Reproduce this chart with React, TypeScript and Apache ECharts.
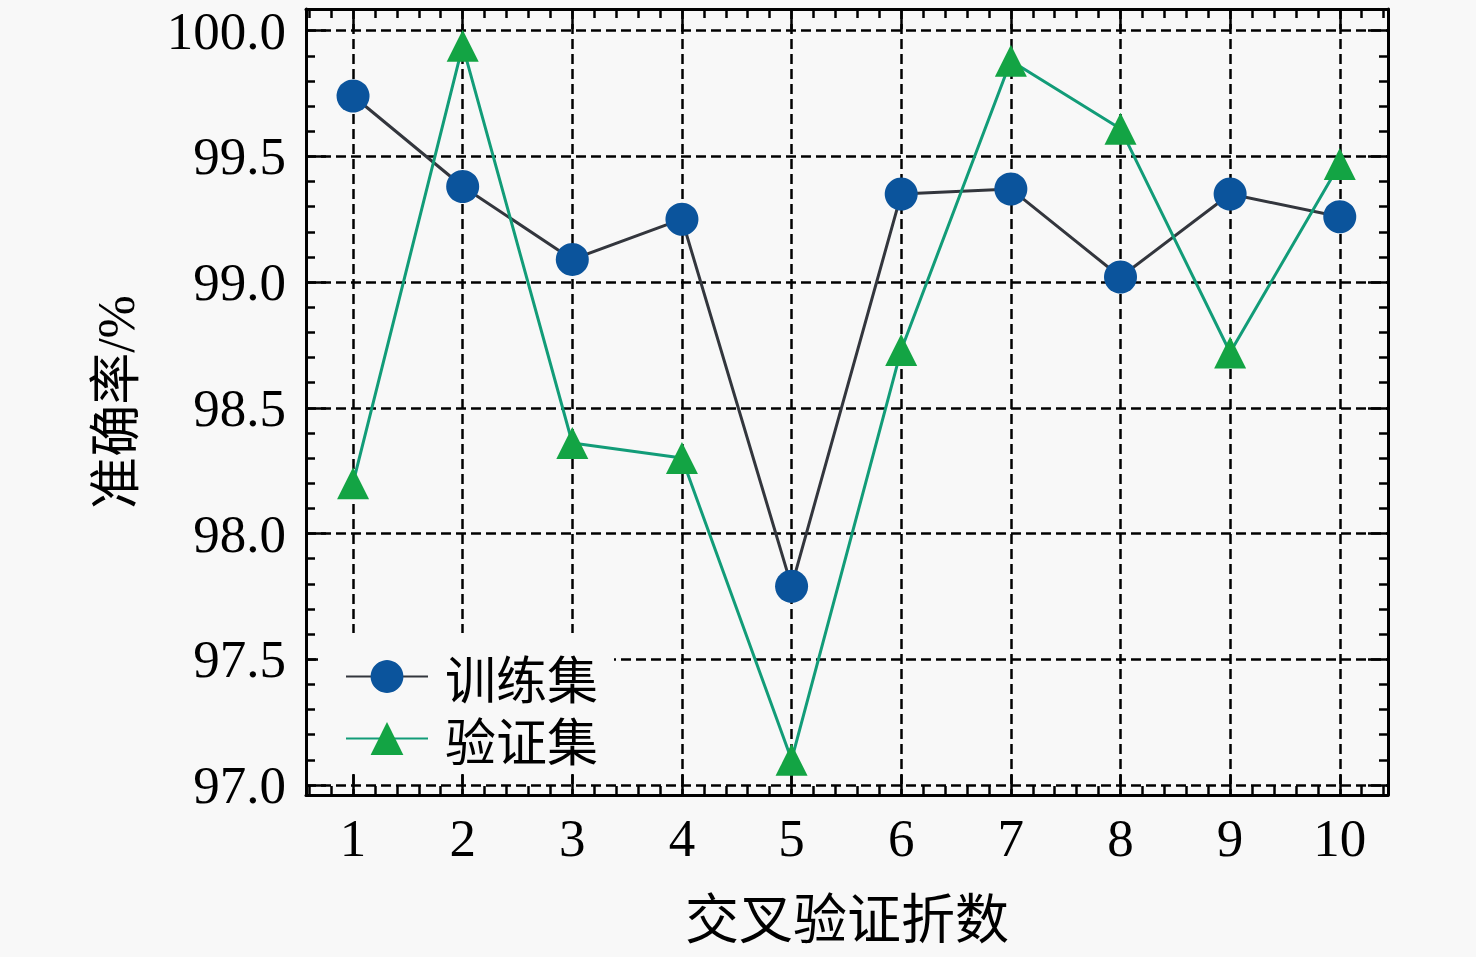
import React, { useEffect, useRef } from 'react';
import * as echarts from 'echarts';

// ---- data ----
const folds = [1, 2, 3, 4, 5, 6, 7, 8, 9, 10];
const trainAcc = [99.74, 99.38, 99.09, 99.25, 97.79, 99.35, 99.37, 99.02, 99.35, 99.26];
const valAcc = [98.2, 99.94, 98.36, 98.3, 97.1, 98.73, 99.88, 99.61, 98.72, 99.47];
const seriesNames = ['训练集', '验证集'];
const yMajorTicks = [97.0, 97.5, 98.0, 98.5, 99.0, 99.5, 100.0];
const xMajorTicks = folds;
const xAxisTitle = '交叉验证折数';
const yAxisTitle = '准确率/%';

const X_MIN = 0.571;
const X_MAX = 10.44;
const Y_MIN = 96.96;
const Y_MAX = 100.086;

function minorTicks(start: number, end: number, step: number, majorStep: number): number[] {
  const out: number[] = [];
  const n = Math.round((end - start) / step);
  for (let i = 0; i <= n; i++) {
    const v = Math.round((start + i * step) * 1000) / 1000;
    const r = v / majorStep;
    if (Math.abs(r - Math.round(r)) > 1e-6) out.push(v);
  }
  return out;
}

const SERIF = "'Liberation Serif', 'Noto Sans CJK SC', serif";
const CJK = "'Noto Sans CJK SC', 'Liberation Serif', sans-serif";

export default function App() {
  const ref = useRef<HTMLDivElement>(null);
  useEffect(() => {
    if (!ref.current) return;
    const chart = echarts.init(ref.current, undefined, { renderer: 'svg' });
    const xMinor = minorTicks(0.6, 10.4, 0.2, 1);
    const yMinor = minorTicks(97.0, 100.0, 0.1, 0.5);

    const axisLineStyle = { color: '#000', width: 3 };
    const majorTick = { show: true, inside: true, length: 20, lineStyle: { color: '#000', width: 2.5 } };
    const minorTick = { show: true, inside: true, length: 9, lineStyle: { color: '#000', width: 2.5 } };
    const gridLine = { show: true, lineStyle: { color: '#000', width: 2.5, type: [10, 5] as any } };

    const baseX = { type: 'value' as const, min: X_MIN, max: X_MAX, gridIndex: 0 };
    const baseY = { type: 'value' as const, min: Y_MIN, max: Y_MAX, gridIndex: 0 };

    const option: any = {
      animation: false,
      backgroundColor: '#f8f8f8',
      grid: { left: 306, right: 88, top: 9, bottom: 162, containLabel: false },
      legend: {
        left: 318,
        top: 633,
        orient: 'vertical',
        backgroundColor: '#f8f8f8',
        padding: [18, 16, 8, 27],
        itemWidth: 82,
        itemHeight: 41,
        itemGap: 11,
        data: seriesNames,
        textStyle: {
          fontFamily: CJK,
          fontSize: 51,
          color: '#000',
          lineHeight: 50,
          padding: [0, 0, 0, 12],
        },
        z: 10,
      },
      xAxis: [
        {
          ...baseX,
          position: 'bottom',
          name: xAxisTitle,
          nameLocation: 'middle',
          nameGap: 93,
          nameTextStyle: { fontFamily: CJK, fontSize: 54, color: '#000' },
          axisLine: { show: true, onZero: false, lineStyle: axisLineStyle },
          axisTick: { ...majorTick, customValues: xMajorTicks },
          axisLabel: {
            customValues: xMajorTicks,
            fontFamily: SERIF,
            fontSize: 53,
            color: '#000',
            margin: 16,
            formatter: (v: number) => String(Math.round(v)),
          },
          splitLine: gridLine,
          minorTick: { show: false },
        },
        {
          ...baseX,
          position: 'bottom',
          axisLine: { show: false, onZero: false },
          axisTick: { ...minorTick, customValues: xMinor },
          axisLabel: { show: false },
          splitLine: { show: false },
        },
        {
          ...baseX,
          position: 'top',
          axisLine: { show: true, onZero: false, lineStyle: axisLineStyle },
          axisTick: { ...majorTick, customValues: xMajorTicks },
          axisLabel: { show: false },
          splitLine: { show: false },
        },
        {
          ...baseX,
          position: 'top',
          axisLine: { show: false, onZero: false },
          axisTick: { ...minorTick, customValues: xMinor },
          axisLabel: { show: false },
          splitLine: { show: false },
        },
      ],
      yAxis: [
        {
          ...baseY,
          position: 'left',
          name: yAxisTitle,
          nameLocation: 'middle',
          nameGap: 190,
          nameRotate: 90,
          nameTextStyle: { fontFamily: SERIF, fontSize: 52, color: '#000', verticalAlign: 'middle' },
          axisLine: { show: true, onZero: false, lineStyle: axisLineStyle },
          axisTick: { ...majorTick, customValues: yMajorTicks },
          axisLabel: {
            customValues: yMajorTicks,
            fontFamily: SERIF,
            fontSize: 53,
            color: '#000',
            margin: 20,
            formatter: (v: number) => v.toFixed(1),
          },
          splitLine: gridLine,
          minorTick: { show: false },
        },
        {
          ...baseY,
          position: 'left',
          axisLine: { show: false, onZero: false },
          axisTick: { ...minorTick, customValues: yMinor },
          axisLabel: { show: false },
          splitLine: { show: false },
        },
        {
          ...baseY,
          position: 'right',
          axisLine: { show: true, onZero: false, lineStyle: axisLineStyle },
          axisTick: { ...majorTick, customValues: yMajorTicks },
          axisLabel: { show: false },
          splitLine: { show: false },
        },
        {
          ...baseY,
          position: 'right',
          axisLine: { show: false, onZero: false },
          axisTick: { ...minorTick, customValues: yMinor },
          axisLabel: { show: false },
          splitLine: { show: false },
        },
      ],
      series: [
        {
          name: seriesNames[0],
          type: 'line',
          xAxisIndex: 0,
          yAxisIndex: 0,
          data: folds.map((f, i) => [f, trainAcc[i]]),
          symbol: 'circle',
          symbolSize: 33,
          lineStyle: { color: '#33363d', width: 3 },
          itemStyle: { color: '#0b549c' },
          z: 3,
        },
        {
          name: seriesNames[1],
          type: 'line',
          xAxisIndex: 0,
          yAxisIndex: 0,
          data: folds.map((f, i) => [f, valAcc[i]]),
          symbol: 'triangle',
          symbolSize: 32,
          lineStyle: { color: '#129c78', width: 3 },
          itemStyle: { color: '#13a444' },
          z: 4,
        },
      ],
    };
    chart.setOption(option);
    return () => chart.dispose();
  }, []);
  return (
    <div
      ref={ref}
      style={{ position: 'fixed', left: 0, top: 0, width: 1476, height: 957, background: '#f8f8f8' }}
    />
  );
}
